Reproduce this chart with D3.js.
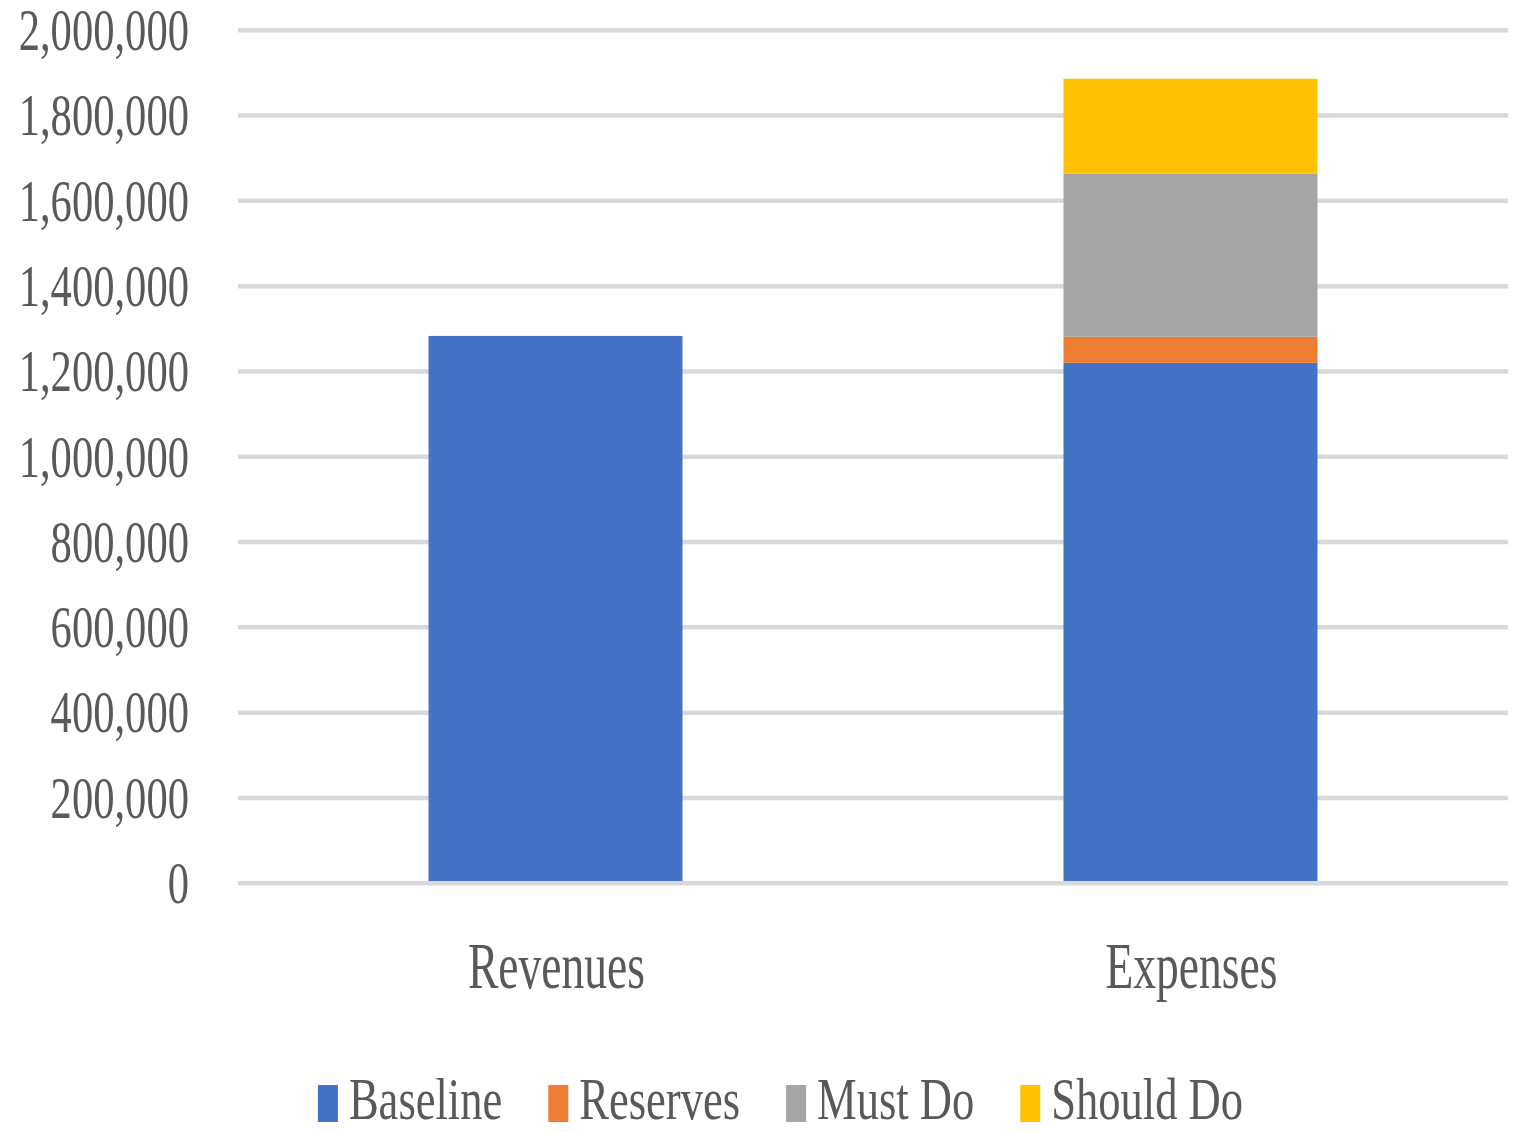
<!DOCTYPE html>
<html>
<head>
<meta charset="utf-8">
<script src="https://cdn.jsdelivr.net/npm/d3@7"></script>
<style>
  html, body { margin: 0; padding: 0; background: #fff; }
  svg text { font-family: "Liberation Serif", serif; fill: #595959; }
</style>
</head>
<body>
<svg id="chart"></svg>
<script>
// chart values
var categories = ["Revenues", "Expenses"];
var seriesNames = ["Baseline", "Reserves", "Must Do", "Should Do"];
var baseline = [1278000, 1215000];
var reserves = [0, 61000];
var mustDo = [0, 382000];
var shouldDo = [0, 223000];
var tickValues = [0, 200000, 400000, 600000, 800000, 1000000, 1200000, 1400000, 1600000, 1800000, 2000000];

var width = 1519, height = 1132;
var colors = ["#4472C4", "#ED7D31", "#A5A5A5", "#FFC000"];
var sx = 0.70; // narrow the glyphs, the picture is squeezed horizontally

var rows = categories.map(function (c, i) {
    return { cat: c, "Baseline": baseline[i], "Reserves": reserves[i], "Must Do": mustDo[i], "Should Do": shouldDo[i] };
});

var svg = d3.select("#chart").attr("width", width).attr("height", height);

var x = d3.scaleBand().domain(categories).range([238, 1508]).paddingInner(0.6).paddingOuter(0.3);
var y = d3.scaleLinear().domain([0, 2000000]).range([881, 28]);
var color = d3.scaleOrdinal().domain(seriesNames).range(colors);

// gridlines
svg.append("g").selectAll("line")
    .data(tickValues)
    .enter().append("line")
    .attr("x1", 238).attr("x2", 1508)
    .attr("y1", function (d) { return y(d) + 2.25; })
    .attr("y2", function (d) { return y(d) + 2.25; })
    .attr("stroke", "#D9D9D9")
    .attr("stroke-width", 4.5);

// tick labels
var fmt = d3.format(",");
svg.append("g").selectAll("text")
    .data(tickValues)
    .enter().append("text")
    .attr("text-anchor", "end")
    .attr("font-size", 60)
    .attr("transform", function (d) { return "translate(189," + (y(d) + 22) + ") scale(0.71,1)"; })
    .text(function (d) { return fmt(d); });

// stacked bars
var stack = d3.stack().keys(seriesNames);
var layers = stack(rows);

svg.append("g").selectAll("g")
    .data(layers)
    .enter().append("g")
    .attr("fill", function (d) { return color(d.key); })
    .selectAll("rect")
    .data(function (d) { return d; })
    .enter().append("rect")
    .attr("x", function (d) { return x(d.data.cat); })
    .attr("width", x.bandwidth())
    .attr("y", function (d) { return y(d[1]); })
    .attr("height", function (d) { return y(d[0]) - y(d[1]); });

// category labels
svg.append("g").selectAll("text")
    .data(categories)
    .enter().append("text")
    .attr("text-anchor", "middle")
    .attr("font-size", 66)
    .attr("transform", function (d) { return "translate(" + (x(d) + x.bandwidth() / 2 + 1) + ",988) scale(0.69,1)"; })
    .text(function (d) { return d; });

// legend
var lsx = 0.755;
var legend = svg.append("g");
var items = legend.selectAll("g")
    .data(seriesNames)
    .enter().append("g");

items.append("rect")
    .attr("width", 20).attr("height", 37)
    .attr("y", 1085)
    .attr("fill", function (d) { return color(d); });

items.append("text")
    .attr("font-size", 59)
    .text(function (d) { return d; });

var pos = 0, positions = [];
items.each(function () {
    var w = d3.select(this).select("text").node().getComputedTextLength() * lsx;
    positions.push(pos);
    pos += 20 + 11 + w + 46;
});
var total = pos - 46;
var start = 780.5 - total / 2;

items.attr("transform", function (d, i) { return "translate(" + (start + positions[i]) + ",0)"; });
items.select("text")
    .attr("transform", "translate(31,1119) scale(" + lsx + ",1)");
</script>
</body>
</html>
